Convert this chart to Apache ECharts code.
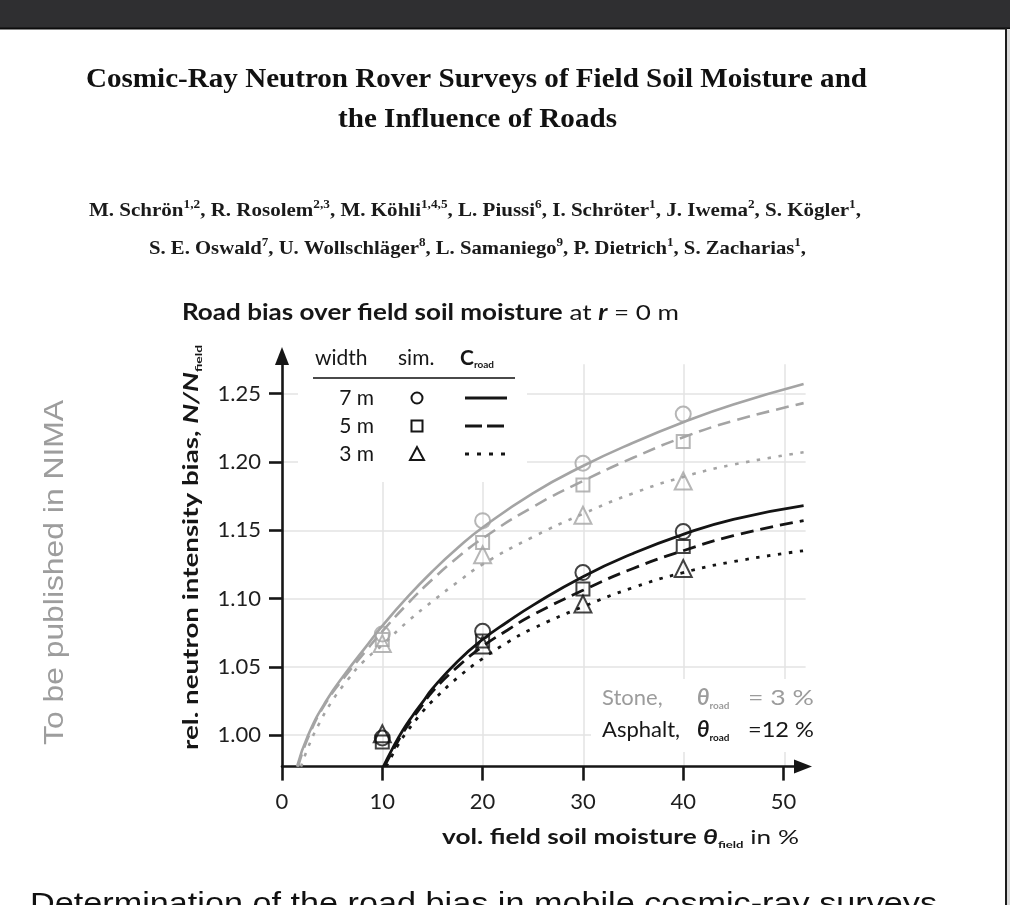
<!DOCTYPE html>
<html>
<head>
<meta charset="utf-8">
<title>Road bias over field soil moisture</title>
<script src="https://cdn.jsdelivr.net/npm/echarts@6/dist/echarts.min.js"></script>
<style>
  html, body { margin: 0; padding: 0; background: #ffffff; overflow: hidden; }
  #chart { width: 1010px; height: 905px; }
</style>
</head>
<body>
<div id="chart"></div>
<script>
// ---------------------------------------------------------------
// Data: road bias N/N_field over field soil moisture (vol. %)
// ---------------------------------------------------------------

// Axis ticks
const xTicks = [0, 10, 20, 30, 40, 50];
const yTicks = [1.00, 1.05, 1.10, 1.15, 1.20, 1.25];

// Simulated points (field soil moisture in vol. %)
const simMoisture = [10, 20, 30, 40];

// Stone road, theta_road = 3 %
const stoneSim7m = [1.074, 1.157, 1.199, 1.235];
const stoneSim5m = [1.070, 1.141, 1.183, 1.215];
const stoneSim3m = [1.067, 1.132, 1.161, 1.186];

// Asphalt road, theta_road = 12 %
const asphaltSim7m = [0.998, 1.076, 1.119, 1.149];
const asphaltSim5m = [0.995, 1.069, 1.107, 1.138];
const asphaltSim3m = [1.001, 1.066, 1.096, 1.122];

// Correction function C_road, stone road
const stoneFitX7 = [1.5, 2.6, 4.4, 6.4, 8.4, 10, 12.5, 15, 17.5, 20, 25, 30, 35, 40, 45, 52];
const stoneFit7  = [0.977, 1.000, 1.025, 1.046, 1.065, 1.080, 1.101, 1.120, 1.137, 1.152, 1.177, 1.197, 1.214, 1.229, 1.242, 1.257];
const stoneFitX5 = [1.6, 2.7, 4.4, 6.4, 8.4, 10, 12.5, 15, 17.5, 20, 25, 30, 35, 40, 45, 52];
const stoneFit5  = [0.977, 1.000, 1.024, 1.044, 1.062, 1.076, 1.096, 1.114, 1.130, 1.144, 1.167, 1.186, 1.203, 1.218, 1.230, 1.243];
const stoneFitX3 = [1.9, 2.6, 3.6, 5, 6.5, 8, 10, 12.5, 15, 17.5, 20, 25, 30, 35, 40, 45, 52];
const stoneFit3  = [0.977, 0.991, 1.007, 1.025, 1.040, 1.053, 1.066, 1.083, 1.098, 1.112, 1.125, 1.145, 1.162, 1.177, 1.189, 1.198, 1.207];

// Correction function C_road, asphalt road
const asphaltFitX7 = [10.1, 11, 12, 13, 14, 15, 17.5, 20, 22.5, 25, 30, 35, 40, 45, 52];
const asphaltFit7  = [0.977, 0.990, 1.003, 1.014, 1.024, 1.034, 1.054, 1.070, 1.083, 1.095, 1.116, 1.133, 1.147, 1.158, 1.168];
const asphaltFitX5 = [10.2, 11, 12, 13, 14, 15, 17.5, 20, 22.5, 25, 30, 35, 40, 45, 52];
const asphaltFit5  = [0.977, 0.988, 1.001, 1.012, 1.022, 1.032, 1.050, 1.065, 1.077, 1.088, 1.106, 1.122, 1.135, 1.146, 1.157];
const asphaltFitX3 = [10.4, 11.5, 12.5, 14, 15, 17.5, 20, 22.5, 25, 30, 35, 40, 45, 52];
const asphaltFit3  = [0.977, 0.992, 1.003, 1.017, 1.025, 1.042, 1.056, 1.068, 1.078, 1.094, 1.108, 1.119, 1.127, 1.135];

// Legend table rows
const widthLabels = ['7 m', '5 m', '3 m'];

// ---------------------------------------------------------------
// Styling helpers
// ---------------------------------------------------------------
const SANS  = 'Lato, "Open Sans", "DejaVu Sans", sans-serif';
const SERIF = '"Liberation Serif", "DejaVu Serif", serif';
const ARIAL = '"Liberation Sans", Arial, sans-serif';

const STONE   = '#a4a4a4';
const ASPHALT = '#141414';
const INK     = '#161616';

const measureCtx = document.createElement('canvas').getContext('2d');

function fontString(s) {
  return (s.fontStyle || 'normal') + ' ' + (s.fontWeight || 'normal') + ' ' + s.fontSize + 'px ' + s.fontFamily;
}
function naturalWidth(parts, styles) {
  let w = 0;
  parts.forEach(function (p) {
    measureCtx.font = fontString(styles[p[0]]);
    w += measureCtx.measureText(p[1]).width;
  });
  return w;
}
function richString(parts) {
  return parts.map(function (p) { return '{' + p[0] + '|' + p[1] + '}'; }).join('');
}
// Rich text element; when `width` is given the run is stretched to that length
function richLabel(parts, styles, o) {
  const nat = naturalWidth(parts, styles);
  const sx = o.width ? o.width / nat : 1;
  return {
    type: 'text',
    x: o.x, y: o.y,
    rotation: o.rotation || 0,
    scaleX: sx,
    z: o.z || 20,
    silent: true,
    style: {
      text: richString(parts),
      rich: styles,
      align: o.align || 'left',
      verticalAlign: 'middle'
    }
  };
}

// ---------------------------------------------------------------
// Series
// ---------------------------------------------------------------
function pairs(xs, ys) { return xs.map(function (x, i) { return [x, ys[i]]; }); }

const DASHED = [13, 7];
const DOTTED = [3.5, 7.5];

function fitLine(name, xs, ys, color, dash, width) {
  return {
    name: name, type: 'line', xAxisIndex: 0, yAxisIndex: 0,
    data: pairs(xs, ys), showSymbol: false, smooth: 0.5,
    clip: false, silent: true, z: 2,
    lineStyle: { color: color, width: width, type: dash, cap: 'butt' }
  };
}
function simPoints(name, ys, color, symbol, size) {
  return {
    name: name, type: 'scatter', xAxisIndex: 0, yAxisIndex: 0,
    data: pairs(simMoisture, ys), symbol: symbol, symbolSize: size,
    silent: true, z: 3,
    itemStyle: { color: 'rgba(255,255,255,0)', borderColor: color, borderWidth: 2 }
  };
}

const series = [
  fitLine('Stone C 7 m', stoneFitX7, stoneFit7, STONE, 'solid', 2.6),
  fitLine('Stone C 5 m', stoneFitX5, stoneFit5, STONE, DASHED, 2.6),
  fitLine('Stone C 3 m', stoneFitX3, stoneFit3, STONE, DOTTED, 2.6),
  fitLine('Asphalt C 7 m', asphaltFitX7, asphaltFit7, ASPHALT, 'solid', 2.8),
  fitLine('Asphalt C 5 m', asphaltFitX5, asphaltFit5, ASPHALT, DASHED, 2.8),
  fitLine('Asphalt C 3 m', asphaltFitX3, asphaltFit3, ASPHALT, DOTTED, 2.8),
  simPoints('Stone sim 7 m', stoneSim7m, STONE, 'circle', 15),
  simPoints('Stone sim 5 m', stoneSim5m, STONE, 'rect', 13),
  simPoints('Stone sim 3 m', stoneSim3m, STONE, 'triangle', 17),
  simPoints('Asphalt sim 7 m', asphaltSim7m, ASPHALT, 'circle', 15),
  simPoints('Asphalt sim 5 m', asphaltSim5m, ASPHALT, 'rect', 13),
  simPoints('Asphalt sim 3 m', asphaltSim3m, ASPHALT, 'triangle', 17)
];

// ---------------------------------------------------------------
// Axes: grid 0 carries the arrowed axes, grid 1 only the light grid
// ---------------------------------------------------------------
const axisLineStyle = { color: INK, width: 2.6 };
const tickFont = { fontFamily: SANS, fontSize: 22, color: '#1e1e1e' };

const xAxes = [
  {
    gridIndex: 0, type: 'value', min: 0, max: 51.94,
    axisLine: { show: true, onZero: false, lineStyle: axisLineStyle,
                symbol: ['none', 'triangle'], symbolSize: [14, 18] },
    axisTick: { show: true, customValues: xTicks, length: 14, inside: false, lineStyle: axisLineStyle },
    axisLabel: Object.assign({ show: true, customValues: xTicks, margin: 24,
                               formatter: function (v) { return String(v); } }, tickFont),
    splitLine: { show: false }
  },
  {
    gridIndex: 1, type: 'value', min: 0, max: 52.1,
    axisLine: { show: false }, axisLabel: { show: false },
    axisTick: { show: false, customValues: xTicks.slice(1) },
    splitLine: { show: true, lineStyle: { color: '#e3e3e3', width: 1.5 } }
  }
];
const yAxes = [
  {
    gridIndex: 0, type: 'value', min: 0.977, max: 1.2775,
    axisLine: { show: true, onZero: false, lineStyle: axisLineStyle,
                symbol: ['none', 'triangle'], symbolSize: [14, 18] },
    axisTick: { show: true, customValues: yTicks, length: 13, inside: false, lineStyle: axisLineStyle },
    axisLabel: Object.assign({ show: true, customValues: yTicks, margin: 21,
                               formatter: function (v) { return v.toFixed(2); } }, tickFont),
    splitLine: { show: false }
  },
  {
    gridIndex: 1, type: 'value', min: 0.977, max: 1.2715,
    axisLine: { show: false }, axisLabel: { show: false },
    axisTick: { show: false, customValues: yTicks },
    splitLine: { show: true, lineStyle: { color: '#e3e3e3', width: 1.5 } }
  }
];

// ---------------------------------------------------------------
// Page furniture, titles, legend table and annotation
// ---------------------------------------------------------------
const st = {
  serifTitle: { t: { fontFamily: SERIF, fontWeight: 'bold', fontSize: 27, fill: '#111' } },
  authors: {
    a: { fontFamily: SERIF, fontWeight: 'bold', fontSize: 19, fill: '#1a1a1a', lineHeight: 24 },
    s: { fontFamily: SERIF, fontWeight: 'bold', fontSize: 12, fill: '#1a1a1a', lineHeight: 15, verticalAlign: 'top' }
  },
  sans: {
    b:  { fontFamily: SANS, fontWeight: 'bold', fontSize: 22, fill: INK, lineHeight: 26 },
    n:  { fontFamily: SANS, fontSize: 22, fill: INK, lineHeight: 26 },
    bi: { fontFamily: SANS, fontWeight: 'bold', fontStyle: 'italic', fontSize: 22, fill: INK, lineHeight: 26 }
  },
  axisName: {
    b:   { fontFamily: SANS, fontWeight: 'bold', fontSize: 20, fill: INK, lineHeight: 24 },
    n:   { fontFamily: SANS, fontSize: 20, fill: INK, lineHeight: 24 },
    bi:  { fontFamily: SANS, fontWeight: 'bold', fontStyle: 'italic', fontSize: 20, fill: INK, lineHeight: 24 },
    sub: { fontFamily: SANS, fontWeight: 'bold', fontSize: 10, fill: INK, lineHeight: 12, verticalAlign: 'bottom' }
  },
  legend: {
    n:   { fontFamily: SANS, fontSize: 21, fill: INK, lineHeight: 24 },
    b:   { fontFamily: SANS, fontWeight: 'bold', fontSize: 21, fill: INK, lineHeight: 24 },
    sub: { fontFamily: SANS, fontWeight: 'bold', fontSize: 10, fill: INK, lineHeight: 12, verticalAlign: 'bottom' }
  },
  stone: {
    n:   { fontFamily: SANS, fontSize: 22, fill: '#9c9c9c', lineHeight: 26 },
    bi:  { fontFamily: SANS, fontWeight: 'bold', fontStyle: 'italic', fontSize: 22, fill: '#9c9c9c', lineHeight: 26 },
    sub: { fontFamily: SANS, fontWeight: 'bold', fontSize: 10, fill: '#9c9c9c', lineHeight: 12, verticalAlign: 'bottom' }
  },
  asphalt: {
    n:   { fontFamily: SANS, fontSize: 22, fill: INK, lineHeight: 26 },
    bi:  { fontFamily: SANS, fontWeight: 'bold', fontStyle: 'italic', fontSize: 22, fill: INK, lineHeight: 26 },
    sub: { fontFamily: SANS, fontWeight: 'bold', fontSize: 10, fill: INK, lineHeight: 12, verticalAlign: 'bottom' }
  },
  side:   { t: { fontFamily: ARIAL, fontSize: 28, fill: '#9d9d9d' } },
  bottom: { t: { fontFamily: ARIAL, fontSize: 30, fill: '#111' } }
};

const authorsLine1 = [
  ['a', 'M. Schrön'], ['s', '1,2'], ['a', ', R. Rosolem'], ['s', '2,3'],
  ['a', ', M. Köhli'], ['s', '1,4,5'], ['a', ', L. Piussi'], ['s', '6'],
  ['a', ', I. Schröter'], ['s', '1'], ['a', ', J. Iwema'], ['s', '2'],
  ['a', ', S. Kögler'], ['s', '1'], ['a', ',']
];
const authorsLine2 = [
  ['a', 'S. E. Oswald'], ['s', '7'], ['a', ', U. Wollschläger'], ['s', '8'],
  ['a', ', L. Samaniego'], ['s', '9'], ['a', ', P. Dietrich'], ['s', '1'],
  ['a', ', S. Zacharias'], ['s', '1'], ['a', ',']
];

const legendRowY = [398, 426, 454];
const legendDash = ['solid', [17, 5], [4, 8]];

const elements = [
  // window chrome: dark bar above the page and the page edge
  { type: 'rect', shape: { x: 0, y: 0, width: 1010, height: 28 }, style: { fill: '#2f2f31' }, z: 50, silent: true },
  { type: 'line', shape: { x1: 0, y1: 28.5, x2: 1010, y2: 28.5 }, style: { stroke: '#0c0c0c', lineWidth: 2 }, z: 50, silent: true },
  { type: 'line', shape: { x1: 1006, y1: 28, x2: 1006, y2: 905 }, style: { stroke: '#1c1c1c', lineWidth: 2 }, z: 50, silent: true },
  { type: 'rect', shape: { x: 1007, y: 29, width: 3, height: 876 }, style: { fill: '#d9d9d9' }, z: 50, silent: true },

  // paper heading
  richLabel([['t', 'Cosmic-Ray Neutron Rover Surveys of Field Soil Moisture and']], st.serifTitle,
            { x: 476.5, y: 80, align: 'center', width: 781 }),
  richLabel([['t', 'the Influence of Roads']], st.serifTitle,
            { x: 477.5, y: 120, align: 'center', width: 279 }),
  richLabel(authorsLine1, st.authors, { x: 475, y: 211, align: 'center', width: 772 }),
  richLabel(authorsLine2, st.authors, { x: 477.5, y: 249, align: 'center', width: 657 }),

  // margin note and following caption line
  richLabel([['t', 'To be published in NIMA']], st.side,
            { x: 55, y: 572.5, align: 'center', rotation: Math.PI / 2, width: 345 }),
  richLabel([['t', 'Determination of the road bias in mobile cosmic-ray surveys']], st.bottom,
            { x: 483.5, y: 905, align: 'center', width: 907 }),

  // chart title
  richLabel([['b', 'Road bias over field soil moisture'], ['n', ' at '], ['bi', 'r'], ['n', ' = 0 m']], st.sans,
            { x: 182, y: 313, align: 'left', width: 497 }),

  // axis names
  richLabel([['b', 'rel. neutron intensity bias, '], ['bi', 'N/N'], ['sub', 'field']], st.axisName,
            { x: 192, y: 547.5, align: 'center', rotation: Math.PI / 2, width: 405 }),
  richLabel([['b', 'vol. field soil moisture '], ['bi', 'θ'], ['sub', 'field'], ['n', ' in %']], st.axisName,
            { x: 799, y: 838, align: 'right', width: 357 }),

  // legend table (white panel hides the grid behind it)
  { type: 'rect', shape: { x: 298, y: 346, width: 229, height: 136 }, style: { fill: '#ffffff' }, z: 1, silent: true },
  richLabel([['n', 'width']], st.legend, { x: 315, y: 358, align: 'left' }),
  richLabel([['n', 'sim.']], st.legend, { x: 398, y: 358, align: 'left' }),
  richLabel([['b', 'C'], ['sub', 'road']], st.legend, { x: 460, y: 358, align: 'left' }),
  { type: 'line', shape: { x1: 313, y1: 378, x2: 515, y2: 378 }, style: { stroke: '#4a4a4a', lineWidth: 2 }, z: 20, silent: true },

  // annotation panel
  { type: 'rect', shape: { x: 591, y: 679, width: 229, height: 73 }, style: { fill: '#ffffff' }, z: 1, silent: true },
  richLabel([['n', 'Stone,']], st.stone, { x: 602, y: 698, align: 'left' }),
  richLabel([['bi', 'θ'], ['sub', 'road']], st.stone, { x: 697, y: 698, align: 'left' }),
  richLabel([['n', '= 3 %']], st.stone, { x: 814, y: 698, align: 'right', width: 66 }),
  richLabel([['n', 'Asphalt,']], st.asphalt, { x: 602, y: 730, align: 'left' }),
  richLabel([['bi', 'θ'], ['sub', 'road']], st.asphalt, { x: 697, y: 730, align: 'left' }),
  richLabel([['n', '=12 %']], st.asphalt, { x: 814, y: 730, align: 'right', width: 66 })
];

// legend rows: width label, simulation marker, line pattern
widthLabels.forEach(function (lab, i) {
  const y = legendRowY[i];
  elements.push(richLabel([['n', lab]], st.legend, { x: 374, y: y, align: 'right' }));
  const markStyle = { fill: 'none', stroke: INK, lineWidth: 2 };
  if (i === 0) {
    elements.push({ type: 'circle', shape: { cx: 417, cy: y, r: 5.5 }, style: markStyle, z: 20, silent: true });
  } else if (i === 1) {
    elements.push({ type: 'rect', shape: { x: 411.5, y: y - 5.5, width: 11, height: 11 }, style: markStyle, z: 20, silent: true });
  } else {
    elements.push({ type: 'polygon', shape: { points: [[417, y - 7], [410, y + 6], [424, y + 6]] }, style: markStyle, z: 20, silent: true });
  }
  elements.push({
    type: 'line', shape: { x1: 465, y1: y, x2: 507, y2: y },
    style: { stroke: INK, lineWidth: 3, lineDash: legendDash[i] === 'solid' ? null : legendDash[i] },
    z: 20, silent: true
  });
});

// ---------------------------------------------------------------
const chart = echarts.init(document.getElementById('chart'), null, { renderer: 'canvas' });
chart.setOption({
  animation: false,
  backgroundColor: '#ffffff',
  grid: [
    { left: 282, right: 207, top: 356, bottom: 138.4, containLabel: false, outerBoundsMode: 'none' },
    { left: 282, right: 204.4, top: 364.3, bottom: 138.4, containLabel: false, outerBoundsMode: 'none' }
  ],
  xAxis: xAxes,
  yAxis: yAxes,
  series: series,
  graphic: { elements: elements }
});
</script>
</body>
</html>
